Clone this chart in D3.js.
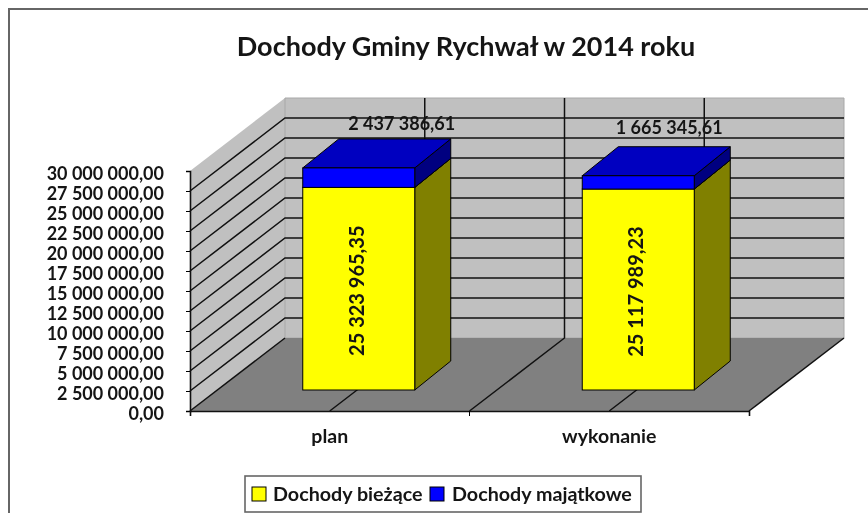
<!DOCTYPE html>
<html>
<head>
<meta charset="utf-8">
<script src="https://cdnjs.cloudflare.com/ajax/libs/d3/7.8.5/d3.min.js"></script>
<style>
	html, body { margin: 0; padding: 0; background: #fff; overflow: hidden; }
	svg { display: block; filter: blur(0.55px); }
	text { font-family: Lato, "Open Sans", sans-serif; font-weight: 700; fill: #151515; }
</style>
</head>
<body>
<script>
const categories = ["plan", "wykonanie"];
const seriesNames = ["Dochody bieżące", "Dochody majątkowe"];
const biezace = [25323965.35, 25117989.23];
const majatkowe = [2437386.61, 1665345.61];
const yTicks = [0, 2500000, 5000000, 7500000, 10000000, 12500000, 15000000,
	17500000, 20000000, 22500000, 25000000, 27500000, 30000000];

const width = 868, height = 513;

// front edge of the floor
const x0 = 190, x1 = 749, yBase = 411, yTop = 171;
// depth of the whole 3d box
const depthX = 95, depthY = 73;
// where the bars stand on the floor, and how deep they are
const barOffX = 29, barOffY = 21, barDepthX = 36, barDepthY = 29, barWidth = 112;

const pl = d3.formatLocale({ decimal: ",", thousands: " ", grouping: [3], currency: ["", " zł"] });
const money = pl.format(",.2f");

const x = d3.scaleBand().domain(categories).range([x0, x1]);
const y = d3.scaleLinear().domain([0, 30000000]).range([yBase, yTop]);
const color = d3.scaleOrdinal().domain(seriesNames).range(["#ffff00", "#0000ff"]);
const topColor = d3.scaleOrdinal().domain(seriesNames).range(["#c0c000", "#0000c0"]);
const sideColor = d3.scaleOrdinal().domain(seriesNames).range(["#808000", "#000080"]);

const rows = categories.map((c, i) => ({ category: c, [seriesNames[0]]: biezace[i], [seriesNames[1]]: majatkowe[i] }));
const stacked = d3.stack().keys(seriesNames)(rows);

const svg = d3.select("body").append("svg")
	.attr("width", width)
	.attr("height", height);

const poly = pts => "M" + pts.map(p => p.join(",")).join("L") + "Z";

// chart frame, only top and left show in the crop
svg.append("path")
	.attr("d", `M9,${height}V9H${width}`)
	.attr("fill", "none")
	.attr("stroke", "#666")
	.attr("stroke-width", 2);

svg.append("text")
	.attr("x", 466)
	.attr("y", 56)
	.attr("text-anchor", "middle")
	.style("font-size", "27px")
	.text("Dochody Gminy Rychwał w 2014 roku");

// walls and floor
svg.append("path")
	.attr("d", poly([[x0, yBase], [x0 + depthX, yBase - depthY], [x0 + depthX, yTop - depthY], [x0, yTop]]))
	.attr("fill", "#c0c0c0");
svg.append("path")
	.attr("d", poly([[x0 + depthX, yBase - depthY], [x1 + depthX, yBase - depthY], [x1 + depthX, yTop - depthY], [x0 + depthX, yTop - depthY]]))
	.attr("fill", "#c0c0c0")
	.attr("stroke", "#a8a8a8");
svg.append("path")
	.attr("d", poly([[x0, yBase], [x1, yBase], [x1 + depthX, yBase - depthY], [x0 + depthX, yBase - depthY]]))
	.attr("fill", "#808080");

// horizontal grid runs over left wall and back wall
const gridTicks = yTicks.slice(1, -1);
svg.append("g").selectAll("path")
	.data(gridTicks)
	.enter()
	.append("path")
	.attr("d", d => `M${x0},${y(d)}L${x0 + depthX},${y(d) - depthY}H${x1 + depthX}`)
	.attr("fill", "none")
	.attr("stroke", "#111")
	.attr("stroke-width", 1.5);

// vertical grid: band edges and band centres, carried over the floor
const floorLines = [];
categories.forEach(c => {
	floorLines.push(x(c), x(c) + x.bandwidth() / 2);
});
floorLines.push(x1);

svg.append("g").selectAll("path")
	.data(floorLines)
	.enter()
	.append("path")
	.attr("d", d => `M${d},${yBase}L${d + depthX},${yBase - depthY}` + (d > x0 && d < x1 ? `V${yTop - depthY}` : ""))
	.attr("fill", "none")
	.attr("stroke", "#111")
	.attr("stroke-width", 1.5);

// axes
const yAxis = svg.append("g")
	.attr("transform", `translate(${x0},0)`)
	.call(d3.axisLeft(y).tickValues(yTicks).tickFormat(money).tickSize(4).tickPadding(22));
yAxis.selectAll("text")
	.attr("dy", "0.6em")
	.attr("y", -2)
	.style("font-size", "18px");

const xAxis = svg.append("g")
	.attr("transform", `translate(0,${yBase})`)
	.call(d3.axisBottom(x).tickSize(0).tickSizeOuter(5).tickPadding(18));
xAxis.selectAll("text")
	.style("font-size", "19.5px");
svg.append("line")
	.attr("x1", x(categories[1])).attr("x2", x(categories[1]))
	.attr("y1", yBase).attr("y2", yBase + 5)
	.attr("stroke", "#000");
svg.selectAll(".domain").attr("stroke", "#111").attr("stroke-width", 1.6);

// bars: side, top and front face of each stacked segment
stacked.forEach(layer => {
	const name = layer.key;
	const g = svg.append("g");
	layer.forEach((d, i) => {
		const left = x(categories[i]) + x.bandwidth() / 2 + barOffX - barWidth / 2;
		const right = left + barWidth;
		const yLow = y(d[0]) - barOffY;
		const yHigh = y(d[1]) - barOffY;

		g.append("path")
			.attr("d", poly([[right, yLow], [right + barDepthX, yLow - barDepthY], [right + barDepthX, yHigh - barDepthY], [right, yHigh]]))
			.attr("fill", sideColor(name))
			.attr("stroke", "#000");
		g.append("path")
			.attr("d", poly([[left, yHigh], [right, yHigh], [right + barDepthX, yHigh - barDepthY], [left + barDepthX, yHigh - barDepthY]]))
			.attr("fill", topColor(name))
			.attr("stroke", "#000");
		g.append("rect")
			.attr("x", left)
			.attr("y", yHigh)
			.attr("width", barWidth)
			.attr("height", yLow - yHigh)
			.attr("fill", color(name))
			.attr("stroke", "#000");
	});
});

// value labels
categories.forEach((c, i) => {
	const cx = x(c) + x.bandwidth() / 2 + barOffX;
	const cy = (y(0) + y(biezace[i])) / 2 - barOffY;
	svg.append("text")
		.attr("transform", `translate(${cx + 5},${cy + 2}) rotate(-90)`)
		.attr("text-anchor", "middle")
		.style("font-size", "20px")
		.text(money(biezace[i]));
});

// the upper labels were moved by hand in the original
const topLabelShift = [[43, -9], [31, -13]];
categories.forEach((c, i) => {
	const cx = x(c) + x.bandwidth() / 2 + barOffX;
	const cy = y(biezace[i] + majatkowe[i]) - barOffY - barDepthY;
	svg.append("text")
		.attr("x", cx + topLabelShift[i][0])
		.attr("y", cy + topLabelShift[i][1])
		.attr("text-anchor", "middle")
		.style("font-size", "18px")
		.text(money(majatkowe[i]));
});

// legend
const legend = svg.append("g");
legend.append("rect")
	.attr("x", 245)
	.attr("y", 476)
	.attr("width", 396)
	.attr("height", 36)
	.attr("fill", "#fff")
	.attr("stroke", "#666")
	.attr("stroke-width", 1.6);

const legendSwatch = [252, 430];
const legendText = [273, 452];
seriesNames.forEach((name, i) => {
	legend.append("rect")
		.attr("x", legendSwatch[i])
		.attr("y", 487)
		.attr("width", 14)
		.attr("height", 14)
		.attr("fill", color(name))
		.attr("stroke", "#000");
	legend.append("text")
		.attr("x", legendText[i])
		.attr("y", 501)
		.style("font-size", "19.7px")
		.text(name);
});
</script>
</body>
</html>
